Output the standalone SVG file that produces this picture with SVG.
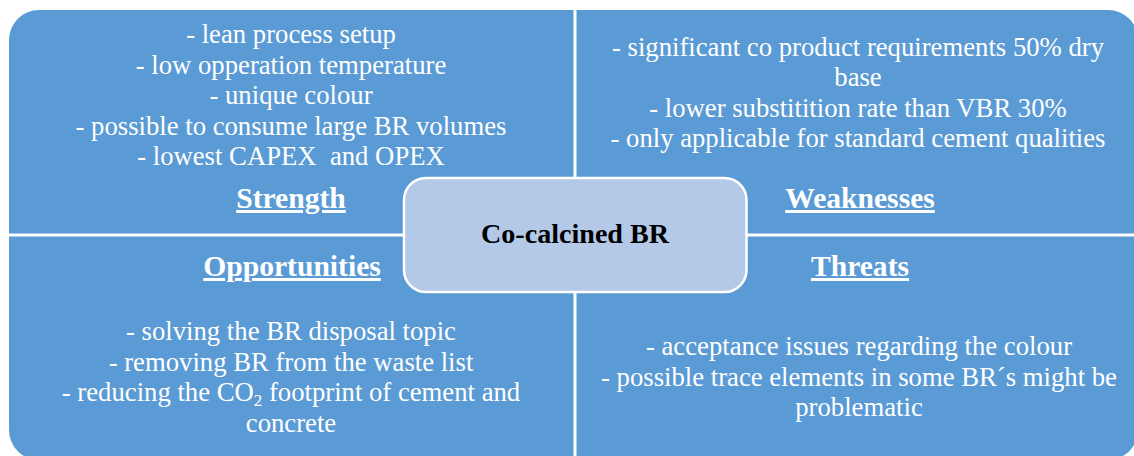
<svg xmlns="http://www.w3.org/2000/svg" width="1134" height="456" viewBox="0 0 1134 456">
<style>
.q{fill:#5B9BD5}
.t{font-family:"Liberation Serif","Times New Roman",serif;font-size:26.7px;fill:#FFFFFF;text-anchor:middle}
.h{font-family:"Liberation Serif","Times New Roman",serif;font-size:29.6px;font-weight:bold;fill:#FFFFFF;text-anchor:middle;text-decoration:underline}
.c{font-family:"Liberation Serif","Times New Roman",serif;font-size:28.1px;font-weight:bold;fill:#000000;text-anchor:middle}
</style>
<rect width="1134" height="456" fill="#FFFFFF"/>
<g id="strength">
<path class="q" d="M9,40 A30,30 0 0 1 39,10 L573.5,10 L573.5,233.5 L9,233.5 Z"/>
<text class="t" x="291" y="43">- lean process setup</text>
<text class="t" x="291" y="73.5">- low opperation temperature</text>
<text class="t" x="291" y="104">- unique colour</text>
<text class="t" x="291" y="134.5">- possible to consume large BR volumes</text>
<text class="t" x="291" y="165" xml:space="preserve">- lowest CAPEX  and OPEX</text>
<text class="h" x="291" y="208">Strength</text>
</g>
<g id="weaknesses">
<path class="q" d="M576.5,10 L1108,10 A30,30 0 0 1 1138,40 L1138,233.5 L576.5,233.5 Z"/>
<text class="t" x="858" y="55.5">- significant co product requirements 50% dry</text>
<text class="t" x="858" y="86">base</text>
<text class="t" x="858" y="116.5">- lower substitition rate than VBR 30%</text>
<text class="t" x="858" y="147">- only applicable for standard cement qualities</text>
<text class="h" x="860" y="208">Weaknesses</text>
</g>
<g id="opportunities">
<path class="q" d="M9,236.5 L573.5,236.5 L573.5,460 L39,460 A30,30 0 0 1 9,430 Z"/>
<text class="h" x="292" y="276">Opportunities</text>
<text class="t" x="291" y="340">- solving the BR disposal topic</text>
<text class="t" x="291" y="370.5">- removing BR from the waste list</text>
<text class="t" x="291" y="401">- reducing the CO<tspan font-size="17px" dy="5">2</tspan><tspan dy="-5"> footprint of cement and</tspan></text>
<text class="t" x="291" y="431.5">concrete</text>
</g>
<g id="threats">
<path class="q" d="M576.5,236.5 L1138,236.5 L1138,430 A30,30 0 0 1 1108,460 L576.5,460 Z"/>
<text class="h" x="860" y="276">Threats</text>
<text class="t" x="859" y="355">- acceptance issues regarding the colour</text>
<text class="t" x="859" y="385.5">- possible trace elements in some BR´s might be</text>
<text class="t" x="859" y="416">problematic</text>
</g>
<g id="connectors"></g>
<g id="center">
<rect x="404" y="178" width="342.5" height="114" rx="22" ry="22" fill="#B4C9E8" stroke="#FFFFFF" stroke-width="2.5"/>
<text class="c" x="575" y="243">Co-calcined BR</text>
</g>
</svg>
